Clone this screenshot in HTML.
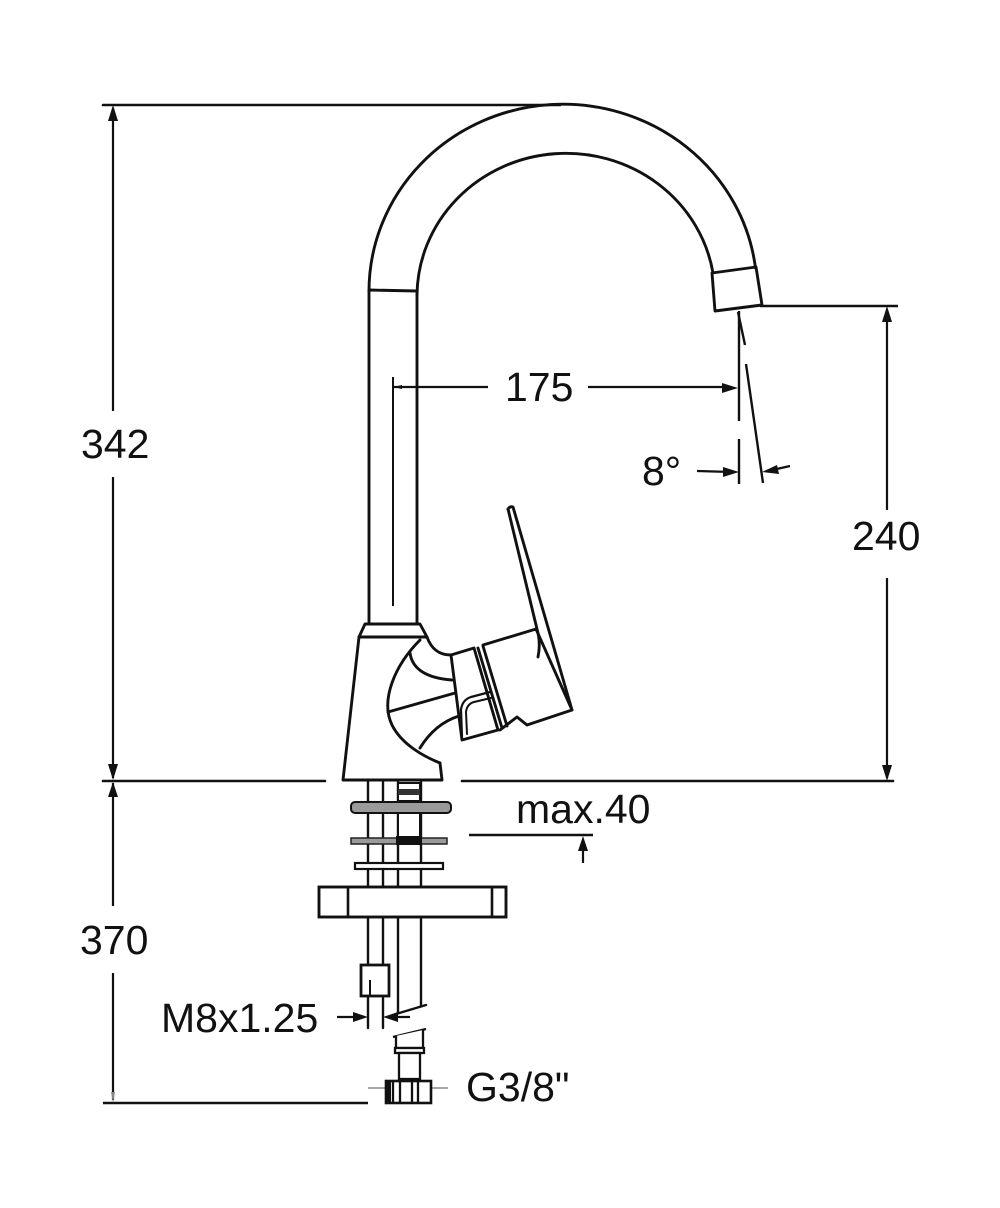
<!DOCTYPE html>
<html><head><meta charset="utf-8"><style>
html,body{margin:0;padding:0;background:#fff;}
svg{display:block;}
text{font-family:"Liberation Sans",Arial,sans-serif;font-size:41px;fill:#111;}
</style></head><body>
<svg width="1000" height="1208" viewBox="0 0 1000 1208" xmlns="http://www.w3.org/2000/svg">
<rect width="1000" height="1208" fill="#fff"/>
<g stroke="#111" fill="none" stroke-width="2.9" stroke-linejoin="round" stroke-linecap="round">
  <line x1="103" y1="105" x2="560" y2="105" stroke-width="2.6"/>
  <path d="M369 292 A194 187 0 0 1 755.5 268"/>
  <path d="M417 295 A149 143 0 0 1 713 273"/>
  <path d="M712 273 L756 267 L762 305 L715 311 Z"/>
  <line x1="369" y1="291" x2="369" y2="624"/>
  <line x1="417" y1="294" x2="417" y2="624"/>
  <line x1="369" y1="290" x2="417" y2="291"/>
  <path d="M365 624 L420 624 L427 637 L359 637 Z"/>
  <path d="M359 637 L343 780 L442 780 L440 763"/>
  <path d="M427 637 C431 648 438 655 451 655"/>
  <path d="M420 640 C395 665 380 700 392 725 C402 745 425 757 440 763"/>
  <path d="M410 653 C412 668 425 678 452 680"/>
  <line x1="388" y1="712" x2="455" y2="693"/>
  <path d="M420 748 C428 735 440 722 459 716"/>
  <path d="M451 655 L474 648 L498 730 L462 740 Z"/>
  <line x1="478" y1="648" x2="502" y2="728"/>
  <line x1="483" y1="646" x2="507" y2="726"/>
  <path d="M462 736 L461 710 Q462 700 471 697 L490 692" stroke-width="2.2"/>
  <path d="M467 734 L466 712 Q467 704 474 702 L491 698" stroke-width="2"/>
  <path d="M483 645 L536 629 L572 710 L527 725 L517 717 L500 730"/>
  <path d="M508 509 Q510 506 513 507 L572 710"/>
  <path d="M508 509 L537 629 Q541 643 538 657"/>
  <line x1="103" y1="781" x2="325" y2="781" stroke-width="2.6"/>
  <line x1="462" y1="781" x2="893" y2="781" stroke-width="2.6"/>
  <line x1="368" y1="781" x2="368" y2="1028" stroke-width="2.4"/>
  <line x1="383" y1="781" x2="383" y2="1028" stroke-width="2.4"/>
  <line x1="398" y1="781" x2="398" y2="1013" stroke-width="2.4"/>
  <line x1="421" y1="781" x2="421" y2="1006" stroke-width="2.4"/>
  <line x1="396" y1="1014" x2="426" y2="1005" stroke-width="2.4"/>
</g>
<rect x="398" y="783" width="22" height="18" fill="#fff" stroke="#111" stroke-width="2"/>
<rect x="398" y="789" width="22" height="6" fill="#333"/>
<rect x="351" y="802" width="100" height="11" rx="4" fill="#9a9a9a" stroke="#111" stroke-width="2"/>
<rect x="398" y="813" width="22" height="25" fill="#fff" stroke="#111" stroke-width="2"/>
<rect x="351" y="838" width="96" height="6" fill="#9a9a9a" stroke="#222" stroke-width="1.5"/>
<rect x="396" y="836" width="26" height="9" fill="#111"/>
<rect x="355" y="863" width="88" height="6" fill="#fff" stroke="#111" stroke-width="2.2"/>
<rect x="319" y="887" width="187" height="30" fill="#fff" stroke="#111" stroke-width="2.9"/>
<line x1="348" y1="887" x2="348" y2="917" stroke="#111" stroke-width="2.6"/>
<line x1="492" y1="887" x2="492" y2="917" stroke="#111" stroke-width="2.6"/>
<rect x="361" y="965" width="28" height="31" fill="#fff" stroke="#111" stroke-width="2.8"/>
<line x1="370" y1="980" x2="370" y2="996" stroke="#111" stroke-width="2"/>
<g stroke="#111" stroke-width="2.3" fill="#fff">
  <line x1="393" y1="1037" x2="426" y2="1029"/>
  <path d="M396 1036 L396 1048 L423 1048 L423 1030"/>
  <rect x="395" y="1048" width="29" height="5"/>
  <rect x="399" y="1053" width="21" height="26"/>
  <line x1="368" y1="1088" x2="448" y2="1088" stroke="#888" stroke-width="1.5"/>
  <rect x="386" y="1081" width="45" height="22" stroke-width="2.6"/>
  <line x1="393" y1="1081" x2="393" y2="1103"/>
  <line x1="400" y1="1081" x2="400" y2="1103"/>
  <line x1="412" y1="1081" x2="412" y2="1103"/>
  <line x1="418" y1="1081" x2="418" y2="1103"/>
</g>
<rect x="386" y="1081" width="5" height="22" fill="#111"/>
<g stroke="#111" stroke-width="2.2" fill="none">
  <line x1="113" y1="108" x2="113" y2="411"/>
  <line x1="113" y1="477" x2="113" y2="778"/>
  <line x1="113" y1="783" x2="113" y2="906"/>
  <line x1="113" y1="973" x2="113" y2="1100"/>
  <line x1="103" y1="1103" x2="368" y2="1103" stroke-width="2.6"/>
  <line x1="887" y1="310" x2="887" y2="510"/>
  <line x1="887" y1="578" x2="887" y2="778"/>
  <line x1="760" y1="306" x2="898" y2="306" stroke-width="2.6"/>
  <line x1="393" y1="377" x2="393" y2="606" stroke-width="2"/>
  <line x1="393" y1="387" x2="488" y2="387"/>
  <line x1="588" y1="387" x2="730" y2="387"/>
  <line x1="739" y1="311" x2="739" y2="421" stroke-width="2.4"/>
  <line x1="739" y1="439" x2="739" y2="484" stroke-width="2.4"/>
  <line x1="738" y1="312" x2="745" y2="345" stroke-width="2.4"/>
  <line x1="746" y1="364" x2="763" y2="483" stroke-width="2.4"/>
  <line x1="697" y1="471" x2="732" y2="472"/>
  <line x1="790" y1="466" x2="768" y2="471"/>
  <line x1="469" y1="835" x2="593" y2="835" stroke-width="2.4"/>
  <line x1="583" y1="845" x2="583" y2="863"/>
  <line x1="337" y1="1017" x2="360" y2="1017"/>
  <line x1="410" y1="1017" x2="391" y2="1017"/>
</g>
<g fill="#111">
  <polygon points="113,105 108,121 118,121"/>
  <polygon points="113,780 108,764 118,764"/>
  <polygon points="113,782 108,797 118,797"/>
  <polygon points="113,1103 111,1092 115,1092" fill="#888"/>
  <polygon points="887,306 882,322 892,322"/>
  <polygon points="887,781 882,765 892,765"/>
  <polygon points="738,388 722,383 722,393"/>
  <polygon points="393,387 402,385 402,389"/>
  <polygon points="739,472 723,467 723,477"/>
  <polygon points="762,472 777,465 779,474"/>
  <polygon points="583,836 578,851 588,851"/>
  <polygon points="368,1017 353,1012 353,1022"/>
  <polygon points="383,1017 398,1012 398,1022"/>
</g>
<text x="81" y="458">342</text>
<text x="80" y="954">370</text>
<text x="852" y="550">240</text>
<text x="505" y="401">175</text>
<text x="642" y="485">8°</text>
<text x="516" y="823">max.40</text>
<text x="161" y="1032">M8x1.25</text>
<text x="466" y="1101">G3/8"</text>
</svg>
</body></html>
